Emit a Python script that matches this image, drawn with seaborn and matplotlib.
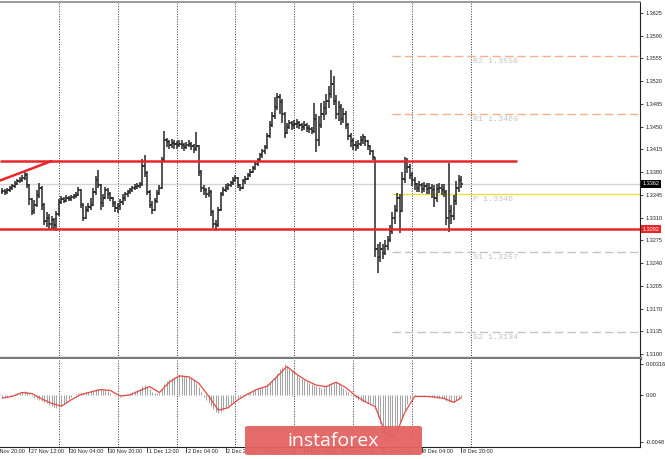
import numpy as np
import matplotlib
matplotlib.use('Agg')
import matplotlib.pyplot as plt
import matplotlib.transforms as mtransforms
import seaborn as sns
from matplotlib.patches import FancyBboxPatch

# H1 bars, prices as pips above 1.3000 (open = previous close)
first_open = 350
closes = [351, 349, 352, 355, 358, 362, 366, 368, 371, 375,
          360, 338, 320, 330, 345, 356, 330, 305, 310, 300,
          306, 298, 316, 334, 338, 336, 340, 339, 341, 343,
          345, 352, 330, 310, 322, 326, 330, 350, 368, 360,
          332, 340, 352, 346, 340, 333, 324, 328, 334, 340,
          346, 349, 352, 355, 357, 359, 361, 390, 378, 350,
          330, 322, 336, 348, 356, 398, 430, 426, 422, 425,
          424, 421, 424, 422, 418, 421, 424, 420, 416, 420,
          380, 356, 352, 346, 350, 318, 300, 298, 322, 346,
          352, 356, 360, 363, 368, 371, 360, 356, 366, 370,
          376, 380, 386, 392, 398, 406, 412, 418, 435, 452,
          466, 480, 495, 488, 470, 440, 450, 455, 452, 454,
          456, 452, 450, 452, 448, 446, 444, 462, 430, 452,
          470, 478, 490, 500, 515, 490, 470, 480, 462, 470,
          452, 436, 428, 422, 420, 424, 430, 434, 428, 420,
          412, 404, 262, 250, 262, 256, 266, 276, 290, 310,
          322, 340, 320, 370, 396, 388, 376, 368, 362, 356,
          360, 354, 358, 354, 356, 352, 340, 354, 356, 352,
          350, 310, 320, 312, 336, 356, 368, 362]
highs = [356, 354, 355, 358, 361, 366, 370, 372, 376, 380,
         378, 362, 340, 337, 352, 363, 358, 332, 318, 316,
         312, 310, 320, 338, 343, 341, 344, 343, 345, 347,
         350, 357, 354, 332, 328, 333, 340, 356, 374, 384,
         362, 346, 357, 355, 349, 342, 336, 332, 339, 346,
         350, 353, 356, 358, 361, 363, 365, 400, 406, 382,
         352, 336, 340, 352, 360, 404, 443, 432, 430, 431,
         430, 428, 430, 429, 425, 427, 429, 427, 424, 442,
         422, 384, 360, 356, 357, 352, 322, 306, 326, 350,
         357, 361, 364, 367, 372, 376, 373, 362, 369, 374,
         379, 385, 390, 396, 402, 410, 416, 422, 440, 458,
         472, 496, 502, 500, 492, 472, 456, 460, 458, 460,
         462, 458, 456, 458, 455, 452, 450, 486, 470, 466,
         486, 490, 500, 512, 537, 528, 498, 490, 485, 478,
         474, 455, 440, 432, 428, 430, 436, 438, 436, 430,
         422, 414, 404, 270, 272, 270, 276, 282, 298, 318,
         330, 348, 346, 380, 403, 402, 392, 380, 372, 364,
         366, 364, 365, 364, 364, 362, 360, 362, 364, 362,
         362, 352, 394, 330, 344, 366, 376, 374]
lows = [347, 345, 347, 349, 353, 356, 360, 363, 365, 368,
        355, 330, 314, 316, 326, 340, 322, 298, 296, 292,
        291, 292, 289, 312, 331, 332, 334, 335, 336, 338,
        340, 343, 324, 305, 308, 318, 322, 328, 345, 355,
        322, 326, 338, 339, 335, 326, 318, 317, 322, 330,
        336, 342, 346, 349, 352, 354, 356, 358, 372, 344,
        324, 316, 320, 332, 344, 354, 396, 418, 415, 417,
        416, 415, 418, 416, 413, 415, 418, 414, 410, 412,
        374, 350, 344, 340, 341, 312, 294, 290, 296, 320,
        343, 349, 353, 357, 360, 365, 355, 351, 354, 362,
        368, 373, 378, 383, 389, 396, 402, 408, 416, 432,
        450, 462, 475, 470, 455, 433, 438, 446, 445, 447,
        448, 446, 443, 445, 441, 440, 438, 440, 411, 420,
        448, 460, 468, 478, 494, 484, 462, 458, 452, 455,
        446, 430, 418, 414, 412, 416, 420, 424, 420, 414,
        406, 398, 250, 225, 242, 246, 252, 260, 272, 284,
        300, 318, 286, 318, 364, 378, 370, 358, 352, 350,
        350, 348, 350, 346, 346, 340, 326, 334, 348, 344,
        342, 298, 288, 300, 306, 330, 350, 356]

# MACD main (histogram) in units of 0.0001
macd_hist = [-3, -2.5, -2, -1.5, -1, 0.5, 1.5, 2.5, 3.5, 4,
             3, 1, -1, -3, -4.5, -5, -6, -7.5, -8.5, -10,
             -11, -12, -13, -12.5, -11, -9, -7, -4.5, -2, 0,
             1, 1.5, 2, 2.5, 3, 3, 4, 5, 6, 6.5,
             6, 5.5, 5, 4, 2, 0, -1.5, -2, -2.5, -1.5,
             -0.5, 1, 2, 3, 4, 5, 6, 9, 10, 9,
             6, 3, 2, 1.5, 2, 6, 11, 14, 16, 17.5,
             18.5, 19.5, 20, 20, 19.5, 19, 18, 17, 15, 12,
             8, 3, -2, -5, -8, -11, -14, -17, -18, -17,
             -15, -13, -11, -9, -7, -5, -3, -2, -1, 0.5,
             2, 3.5, 5, 6, 7, 8, 8.5, 9, 11, 13,
             15, 18, 22, 26, 29, 31.6, 29, 26, 24, 22,
             20, 18, 16.5, 15, 13.5, 12.5, 11.5, 10.5, 9, 8,
             7.5, 8, 9.5, 11, 12.5, 13.5, 13, 11.5, 9.5, 7.5,
             5, 3, 1, -1, -3, -5, -6.5, -7, -7.5, -8,
             -8.5, -9.5, -14, -22, -30, -38, -44, -47, -48, -46,
             -41, -35, -29, -22, -15, -9, -4, -2, -1.5, -1,
             -1, -1, -1.5, -1.5, -1.5, -2, -3, -3, -3, -3.5,
             -4.5, -6, -7, -7.5, -7, -5, -3.5, -2]
# signal line read every 4 bars
signal_bar = [0, 4, 8, 12, 16, 20, 24, 28, 32, 36, 40, 44, 48, 52, 56, 60,
              64, 68, 72, 76, 80, 84, 88, 92, 96, 100, 104, 108, 112, 116,
              120, 124, 128, 132, 136, 140, 144, 148, 152, 156, 160, 164,
              168, 172, 176, 180, 184, 187]
signal_val = [-3, -1.5, 2.5, 1.5, -4, -8.5, -11.5, -5, 0.5, 3, 5.5, 4.5, -1,
              0, 4.5, 8.5, 2.5, 13, 19.5, 18.5, 12, -1, -15.5, -13, -5, 1, 6,
              9, 19, 29, 21, 14.5, 10, 8.5, 13, 7.5, -1, -7, -12, -38, -43,
              -18, -1.5, -1.5, -2, -3.5, -7.5, -3]

pivot_names = ['R2', 'R1', 'P', 'S1', 'S2']
pivot_values = [1.3558, 1.3469, 1.3346, 1.3257, 1.3134]
resistance = 1.3397
support = 1.3292
last_price = 1.3362
trend_bars = [-1, 20]
trend_prices = [1.3367, 1.3397]

date_labels = ['26 Nov 20:00', '27 Nov 12:00', '30 Nov 04:00', '30 Nov 20:00',
               '1 Dec 12:00', '2 Dec 04:00', '2 Dec 20:00', '3 Dec 12:00',
               '4 Dec 04:00', '4 Dec 20:00', '7 Dec 12:00', '8 Dec 04:00',
               '8 Dec 20:00']
date_bars = [-5, 11, 27, 43, 59, 75, 91, 107, 123, 139, 155, 171, 187]
day_bars = [23, 47, 71, 95, 119, 143, 167, 191]

sns.set_theme(style='white')
plt.rcParams['font.family'] = ['Liberation Sans', 'DejaVu Sans']

W, H = 665, 459
fig = plt.figure(figsize=(W / 100, H / 100), dpi=100)
ax = fig.add_axes([0, 1 - 358 / H, 640 / W, 356 / H])
axm = fig.add_axes([0, 1 - 447 / H, 640 / W, 88 / H], sharex=ax)

idx = np.arange(len(closes))
cl = 1.3 + np.array(closes) / 10000
op = 1.3 + np.array([first_open] + closes[:-1]) / 10000
hi = 1.3 + np.array(highs) / 10000
lo = 1.3 + np.array(lows) / 10000

bar_col = '#262626'
ax.vlines(idx, lo, hi, color=bar_col, lw=1.1, zorder=4)
ax.hlines(op, idx - 0.55, idx, color=bar_col, lw=1.1, zorder=4)
ax.hlines(cl, idx, idx + 0.55, color=bar_col, lw=1.1, zorder=4)

xmax = 640 / 2.453 - 1
ax.set_xlim(-1, xmax)
ax.set_ylim(1.30938, 1.36419)

# levels
ax.axhline(last_price, color='#d4d4d4', lw=1, zorder=1)
ax.hlines(resistance, -1, 209.8, color='#e8262a', lw=1.8, zorder=5)
ax.axhline(support, color='#e8262a', lw=1.8, zorder=5)
sns.lineplot(x=trend_bars, y=trend_prices, ax=ax, color='#e8262a', lw=1.8, zorder=5)

piv_colors = ['#f4b08c', '#f4b08c', '#e8e23a', '#c4c4c4', '#c4c4c4']
for name, val, c in zip(pivot_names, pivot_values, piv_colors):
    ls = '-' if name == 'P' else (0, (6, 3))
    ax.hlines(val, 158.8, xmax, color=c, lw=1.0, linestyles=ls, zorder=2)
    ax.text(191.8, val - 0.00025, f'{name} {val:.4f}', family='Liberation Mono',
            fontsize=6, color='#c4c4c4', va='top', ha='left', zorder=3)

for a in (ax, axm):
    for d in day_bars:
        a.axvline(d, color='#333333', lw=0.7, ls=(0, (1, 1.6)), zorder=0)

# MACD
hist = np.array(macd_hist) * 1e-4
axm.vlines(idx, 0, hist, color='#a3a3a3', lw=0.75, zorder=2)
sns.lineplot(x=signal_bar, y=np.array(signal_val) * 1e-4, ax=axm,
             color='#e24a44', lw=0.9, zorder=3)
axm.set_ylim(-0.00531, 0.00367)

# axes styling
for a in (ax, axm):
    a.set_facecolor('white')
    a.yaxis.tick_right()
    a.tick_params(axis='y', which='both', direction='out', length=2.5, width=0.6,
                  labelsize=4, pad=1.5, colors='#222222', right=True, left=False)
    a.tick_params(axis='x', bottom=False, labelbottom=False)
    a.spines['left'].set_visible(False)
    a.spines['right'].set_color('#222222')
    a.spines['right'].set_linewidth(0.8)
    a.set_xlabel('')
    a.set_ylabel('')
    a.grid(False)

ax.spines['top'].set_color('#888888')
ax.spines['top'].set_linewidth(1.2)
ax.spines['bottom'].set_color('#7a7a7a')
ax.spines['bottom'].set_linewidth(2.4)
axm.spines['top'].set_visible(False)
axm.spines['bottom'].set_color('#222222')
axm.spines['bottom'].set_linewidth(0.8)

yt = np.round(np.arange(1.3100, 1.36251, 0.0035), 4)
ax.set_yticks(yt)
ax.set_yticklabels([f'{v:.4f}' for v in yt])
axm.set_yticks([0.00316, 0.0, -0.0048])
axm.set_yticklabels(['0.00316', '0.00', '-0.0048'])

for val, fc in ((last_price, '#000000'), (support, '#e8262a')):
    ax.annotate(f'{val:.4f}', xy=(1, val), xycoords=('axes fraction', 'data'),
                xytext=(1.6, 0), textcoords='offset points', ha='left', va='center',
                fontsize=4, color='white', zorder=10,
                bbox=dict(boxstyle='square,pad=0.3', fc=fc, ec='none'))

# date labels (the first one runs off the left edge, as in the terminal)
trans = mtransforms.blended_transform_factory(axm.transData, axm.transAxes)
for b, lab in zip(date_bars, date_labels):
    axm.plot([b, b], [0, -0.06], transform=trans, color='#222222', lw=0.6,
             clip_on=False)
    axm.text(b + 0.6, -0.055, lab, transform=trans, fontsize=4, color='#222222',
             ha='left', va='center', clip_on=False)

# watermark
box = FancyBboxPatch((245 / W, 1 - 455 / H), 177 / W, 29 / H,
                     boxstyle='round,pad=0,rounding_size=0.004',
                     transform=fig.transFigure, fc='#e46262', ec='none',
                     alpha=0.95, zorder=20)
fig.patches.append(box)
fig.text(333 / W, 1 - 441 / H, 'instaforex', color='white', fontsize=14,
         family='Open Sans', ha='center', va='center', zorder=21)

fig.savefig('out.png', dpi=100)
